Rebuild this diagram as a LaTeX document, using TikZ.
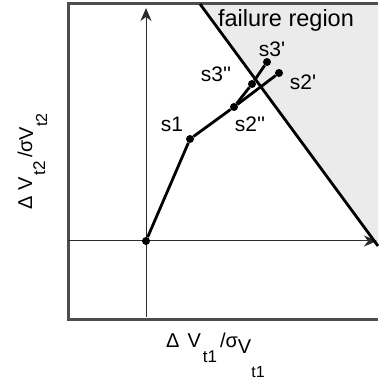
\documentclass[tikz,border=0pt]{standalone}
\usepackage{fontspec}
\setmainfont{Liberation Sans}[Ligatures=TeXOff]
\usetikzlibrary{arrows.meta}
\definecolor{framegray}{HTML}{4D4D4D}
\definecolor{regiongray}{HTML}{EBEBEB}
\definecolor{axisgray}{HTML}{2B2B2B}

\begin{document}
\begin{tikzpicture}[x=1pt,y=1pt,
  dot/.style={circle,fill=black,inner sep=0pt,minimum size=8pt},
  lbl/.style={font=\fontsize{21}{24}\selectfont,anchor=base,inner sep=0pt},
  trail/.style={line width=2.8pt,line join=round},
  axis/.style={axisgray,line width=1pt,-{Stealth[length=13pt,width=11pt,inset=4pt]}}]
  \useasboundingbox (0,0) rectangle (378,380);

  % Failure region beyond the limit line.
  \coordinate (ltop) at (200,376);
  \coordinate (lbot) at (378,134);
  \fill[regiongray] (ltop) -- (lbot) -- (378,376) -- cycle;

  % Open frame, cut off on the right.
  \draw[framegray,line width=3pt] (378,376) -- (68,376) -- (68,60) -- (378,60);

  % Axes through the origin.
  \coordinate (xstart) at (68,139);
  \coordinate (xend) at (377,139);
  \coordinate (ystart) at (146,63);
  \coordinate (yend) at (146,372);
  \draw[axis] (xstart) -- (xend);
  \draw[axis] (ystart) -- (yend);

  \draw[line width=2.8pt] (ltop) -- (lbot);

  % Points of the trajectory.
  \node[dot] (o)   at (146,139) {};
  \node[dot] (s1)  at (190,241) {};
  \node[dot] (s2b) at (234,273) {};
  \node[dot] (s3b) at (252,296) {};
  \node[dot] (s3a) at (267,318) {};
  \node[dot] (s2a) at (279,307) {};

  \draw[trail] (o) -- (s1) -- (s2b) -- (s2a);
  \draw[trail] (s2b) -- (s3b) -- (s3a);

  \node[lbl] (s1lbl)  at (172,248) {s1};
  \node[lbl] (s2blbl) at (250,248) {s2''};
  \node[lbl] (s3blbl) at (216,298) {s3''};
  \node[lbl] (s3albl) at (272,323) {s3'};
  \node[lbl] (s2albl) at (303,290) {s2'};
  \node[lbl,font=\fontsize{23.5}{28}\selectfont] (region) at (286,353) {failure region};

  % Axis labels.
  \node[anchor=base west,inner sep=0pt,font=\fontsize{20}{24}\selectfont] (xlbl) at (166,32)
    {Δ\hspace{8pt}V\hspace{2pt}\raisebox{-15pt}{\fontsize{17}{20}\selectfont t1}\hspace{3pt}/σ\raisebox{-5pt}{V\raisebox{-25pt}{\fontsize{16}{20}\selectfont t1}}};
  \node[anchor=base west,rotate=90,inner sep=0pt,font=\fontsize{20}{24}\selectfont] (ylbl) at (32,170)
    {Δ\hspace{6pt}V\hspace{2pt}\raisebox{-13pt}{\fontsize{17}{20}\selectfont t2}\hspace{3pt}/σ\raisebox{-1pt}{V\raisebox{-14pt}{\fontsize{16}{20}\selectfont t2}}};
\end{tikzpicture}
\end{document}
